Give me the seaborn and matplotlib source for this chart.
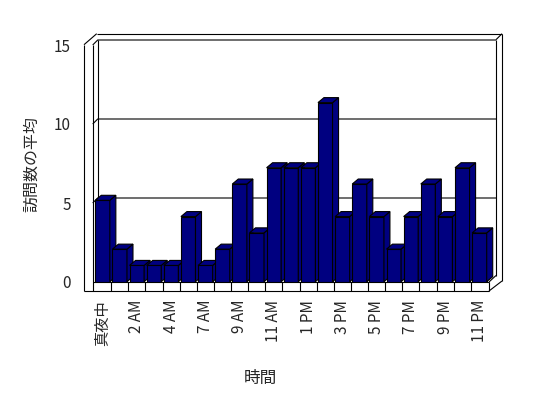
import numpy as np

import pandas as pd

import matplotlib

matplotlib.use("Agg")

import matplotlib.pyplot as plt

import seaborn as sns

from matplotlib.patches import Polygon


# ==========================================
# CHART DATA
# ==========================================

hour_labels = [
    "真夜中", "1 AM", "2 AM", "3 AM", "4 AM", "6 AM",
    "7 AM", "8 AM", "9 AM", "10 AM", "11 AM", "12 PM",
    "1 PM", "2 PM", "3 PM", "4 PM", "5 PM", "6 PM",
    "7 PM", "8 PM", "9 PM", "10 PM", "11 PM"
]

average_visits = [
    5, 2, 1, 1, 1, 4,
    1, 2, 6, 3, 7, 7,
    7, 11, 4, 6, 4, 2,
    4, 6, 4, 7, 3
]

y_ticks = [0, 5, 10, 15]

x_title = "時間"

y_title = "訪問数の平均"

bar_color = "#000080"


# ==========================================
# FIGURE SETUP (pixel layout of the old 3D column chart)
# ==========================================

W, H = 548, 398

LINE = 0.8


def frac(left, top, right, bottom):

    return [
        left / W,
        1 - bottom / H,
        (right - left) / W,
        (bottom - top) / H
    ]


sns.set_style("white")

plt.rcParams["font.family"] = ["Noto Sans CJK JP", "DejaVu Sans"]

fig = plt.figure(figsize=(W / 100, H / 100), dpi=100)

# background layer, pixel coordinates, y pointing down
bg = fig.add_axes([0, 0, 1, 1])
bg.set_xlim(0, W)
bg.set_ylim(H, 0)
bg.axis("off")

# bars
ax = fig.add_axes(frac(94, 37.5, 488, 281.7))
ax.patch.set_visible(False)

# value axis on the front edge of the left wall
ay = fig.add_axes(frac(84, 45, 92.7, 282))
ay.patch.set_visible(False)


def wall_line(xs, ys):

    bg.plot(
        xs, ys,
        color="black",
        linewidth=LINE,
        solid_capstyle="butt",
        zorder=1
    )


def to_bg(axis, x, y):

    disp = axis.transData.transform((x, y))

    return bg.transData.inverted().transform(disp)


# ==========================================
# BARS
# ==========================================

visits_frame = pd.DataFrame({
    "hour": hour_labels,
    "visits": average_visits
})

sns.barplot(
    data=visits_frame,
    x="hour",
    y="visits",
    color=bar_color,
    saturation=1,
    width=0.85,
    edgecolor="black",
    linewidth=LINE,
    errorbar=None,
    ax=ax
)

ax.set_xlim(-0.5, len(hour_labels) - 0.5)
ax.set_ylim(0, 15)

# depth of each column: 6 px right, 5 px up
depth_x = 6 / (394 / len(hour_labels))
depth_y = 5 / (244.2 / 15)

for i, bar in enumerate(ax.patches):

    x0 = bar.get_x()
    w = bar.get_width()
    h = bar.get_height()

    bar.set_zorder(3 + 3 * i)

    top_face = Polygon(
        [
            (x0, h),
            (x0 + w, h),
            (x0 + w + depth_x, h + depth_y),
            (x0 + depth_x, h + depth_y)
        ],
        closed=True,
        facecolor=bar_color,
        edgecolor="black",
        linewidth=LINE,
        clip_on=False,
        zorder=4 + 3 * i
    )

    side_face = Polygon(
        [
            (x0 + w, 0),
            (x0 + w + depth_x, depth_y),
            (x0 + w + depth_x, h + depth_y),
            (x0 + w, h)
        ],
        closed=True,
        facecolor=bar_color,
        edgecolor="black",
        linewidth=LINE,
        clip_on=False,
        zorder=4 + 3 * i
    )

    ax.add_patch(side_face)
    ax.add_patch(top_face)

for side in ["left", "right", "top", "bottom"]:
    ax.spines[side].set_visible(False)

ax.set_yticks([])
ax.set_ylabel("")

ax.set_xticks(range(0, len(hour_labels), 2))
ax.set_xticklabels(hour_labels[::2], rotation=90, fontsize=11)
ax.tick_params(axis="x", length=0, pad=13)

ax.set_xlabel(x_title, fontsize=12)
ax.xaxis.set_label_coords((260 - 94) / 394, -(378 - 281.7) / 244.2)
ax.xaxis.label.set_va("center")


# ==========================================
# VALUE AXIS
# ==========================================

ay.set_ylim(0, 15)
ay.set_xlim(0, 1)
ay.set_yticks(y_ticks)
ay.set_xticks([])

for side in ["left", "right", "top", "bottom"]:
    ay.spines[side].set_visible(False)

ay.tick_params(
    axis="y",
    direction="in",
    length=6.3,
    width=LINE,
    pad=9.5,
    labelsize=11
)

ay.set_ylabel(y_title, fontsize=11.5)
ay.yaxis.set_label_coords((32 - 84) / 8.7, 0.5)
ay.yaxis.label.set_va("center")


# ==========================================
# WALLS AND FLOOR
# ==========================================

# left wall slab
wall_line([84, 84], [44.7, 291])
wall_line([92.7, 92.7], [44.7, 291])
wall_line([84, 96.7], [44.7, 33.7])

# back wall frame
wall_line([96.7, 502], [33.7, 33.7])
wall_line([97.7, 97.7], [39.7, 277])
wall_line([496, 496], [39.7, 275.5])
wall_line([502, 502], [33.7, 281])
wall_line([496, 502], [39.7, 33.7])

# gridlines on back wall, starting from each value tick
for v in y_ticks[1:]:

    fx, fy = to_bg(ay, 1, v)

    wall_line([fx, fx + 5, 496], [fy, fy - 5, fy - 5])

# floor strip with one cell per hour
wall_line([92.7, 489], [282, 282])
wall_line([84, 489], [291, 291])
wall_line([489, 489], [282, 291])
wall_line([489, 502], [291, 281])
wall_line([489, 496], [282, 275.5])

for k in range(1, len(hour_labels)):

    bx, _ = to_bg(ax, k - 0.5, 0)

    wall_line([bx, bx], [282, 291])


fig.savefig("out.png", dpi=100, facecolor="white")
